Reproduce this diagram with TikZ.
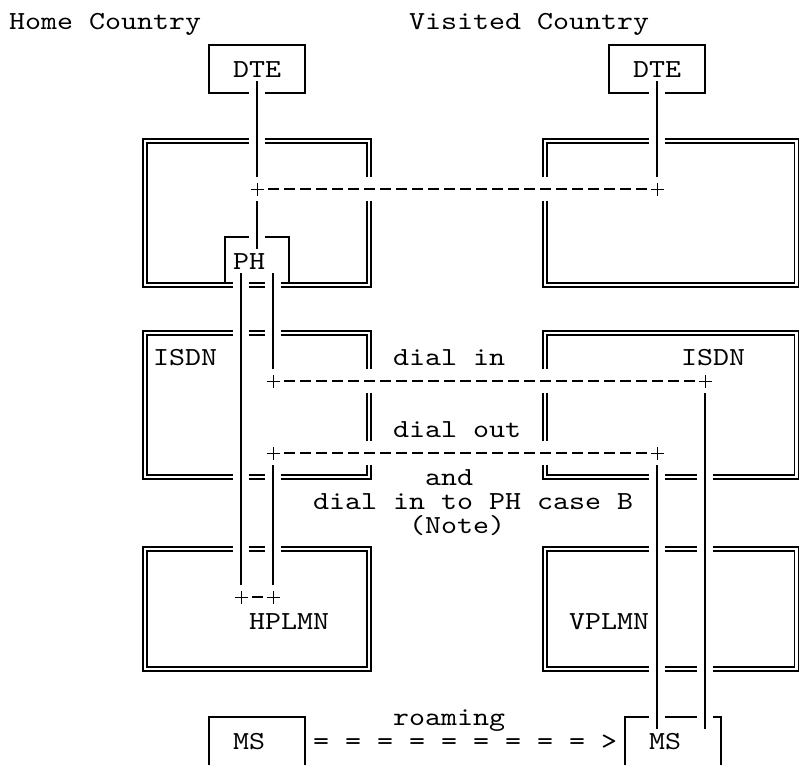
\documentclass[tikz,border=0pt]{standalone}
\usepackage{fontspec}
\usetikzlibrary{calc}
\newfontfamily\asc{lmmono10-regular.otf}[FakeStretch=1.172]
\newcommand\hgap[2]{\fill[white] (#1-8,#2-4) rectangle (#1+8,#2+4);}
\newcommand\vgap[2]{\fill[white] (#1-4,#2-12) rectangle (#1+4,#2+12);}
\newcommand\plusmark[1]{\draw[plusl] ($(#1)+(-6.5,0)$) -- ($(#1)+(6.5,0)$) ($(#1)+(0,-6.5)$) -- ($(#1)+(0,6.5)$);}
\tikzset{
  txt/.style={font=\asc\fontsize{26}{30}\selectfont, inner sep=0pt, anchor=base west},
  plusl/.style={line width=1pt},
  sbox/.style={draw, line width=1.8pt, inner sep=0pt, outer sep=0pt},
  dbox/.style={draw, double, line width=1.4pt, double distance=2.6pt, inner sep=0pt, outer sep=0pt},
  conn/.style={line width=1.8pt},
  dashc/.style={line width=1.6pt, dash pattern=on 11pt off 5pt, dash phase=13.5pt},
}
\begin{document}
\begin{tikzpicture}[x=1pt,y=-1pt]
\useasboundingbox (0,0) rectangle (800,764);
% single boxes
\node[sbox, minimum width=96pt, minimum height=48pt] (dteL) at (257,69) {};
\node[sbox, minimum width=96pt, minimum height=48pt] (dteR) at (657,69) {};
\node[sbox, minimum width=64pt, minimum height=48pt] (ph) at (257,261) {};
\node[sbox, minimum width=96pt, minimum height=83pt] (msL) at (257,758.5) {};
\node[sbox, minimum width=96pt, minimum height=83pt] (msR) at (673,758.5) {};
% double boxes
\node[dbox, minimum width=224pt, minimum height=144pt] (homenet) at (257,213) {};
\node[dbox, minimum width=251.5pt, minimum height=144pt] (visnet) at (670.75,213) {};
\node[dbox, minimum width=224pt, minimum height=144pt] (isdnH) at (257,405) {};
\node[dbox, minimum width=251.5pt, minimum height=144pt] (isdnV) at (670.75,405) {};
\node[dbox, minimum width=224pt, minimum height=120pt] (hplmnB) at (257,609) {};
\node[dbox, minimum width=251.5pt, minimum height=120pt] (vplmnB) at (670.75,609) {};
% gaps where lines cross the borders
\hgap{257}{93} \hgap{657}{93}
\hgap{257}{141} \hgap{657}{141}
\hgap{257}{237}
\hgap{241}{285} \hgap{273}{285}
\hgap{241}{333} \hgap{273}{333}
\hgap{241}{477} \hgap{273}{477} \hgap{657}{477} \hgap{705}{477}
\hgap{241}{549} \hgap{273}{549} \hgap{657}{549} \hgap{705}{549}
\hgap{657}{669} \hgap{705}{669}
\hgap{657}{717} \hgap{705}{717}
\vgap{369}{189} \vgap{545}{189}
\vgap{369}{381} \vgap{545}{381}
\vgap{369}{453} \vgap{545}{453}
% junctions
\coordinate (p1) at (257,189);
\coordinate (p2) at (657,189);
\coordinate (p3) at (273,381);
\coordinate (p3r) at (705,381);
\coordinate (p4) at (273,453);
\coordinate (p4r) at (657,453);
\coordinate (p5) at (241,597);
\coordinate (p6) at (273,597);
\plusmark{p1} \plusmark{p2} \plusmark{p3} \plusmark{p3r}
\plusmark{p4} \plusmark{p4r} \plusmark{p5} \plusmark{p6}
% vertical connectors
\draw[conn] ($(dteL.south)+(0,-12)$) -- ($(p1)+(0,-12)$);
\draw[conn] ($(p1)+(0,12)$) -- ($(ph.north)+(0,12)$);
\draw[conn] ($(dteR.south)+(0,-12)$) -- ($(p2)+(0,-12)$);
\draw[conn] ($(ph.south)+(-16,-12)$) -- ($(p5)+(0,-12)$);
\draw[conn] ($(ph.south)+(16,-12)$) -- ($(p3)+(0,-12)$);
\draw[conn] ($(p4)+(0,12)$) -- ($(p6)+(0,-12)$);
\draw[conn] ($(p3r)+(0,12)$) -- ($(msR.north)+(32,12)$);
\draw[conn] ($(p4r)+(0,12)$) -- ($(msR.north)+(-16,12)$);
% dashed connectors
\draw[dashc] ($(p1)+(8,0)$) -- ($(p2)+(-8,0)$);
\draw[dashc] ($(p3)+(8,0)$) -- ($(p3r)+(-8,0)$);
\draw[dashc] ($(p4)+(8,0)$) -- ($(p4r)+(-8,0)$);
\draw[dashc] ($(p5)+(8,0)$) -- ($(p6)+(-8,0)$);
% texts
\node[txt] (home) at (9,29) {Home Country};
\node[txt] (visited) at (409,29) {Visited Country};
\node[txt] (dteLt) at (233,77) {DTE};
\node[txt] (dteRt) at (633,77) {DTE};
\node[txt] (pht) at (233,269) {PH};
\node[txt] (isdnLt) at (153,365) {ISDN};
\node[txt] (dialin) at (393,365) {dial in};
\node[txt] (isdnRt) at (681,365) {ISDN};
\node[txt] (dialout) at (393,437) {dial out};
\node[txt] (andt) at (425,485) {and};
\node[txt] (dialinph) at (313,509) {dial in to PH case B};
\node[txt] (note) at (409,533) {(Note)};
\node[txt] (hplmnt) at (249,629) {HPLMN};
\node[txt] (vplmnt) at (569,629) {VPLMN};
\node[txt] (roaming) at (393,725) {roaming};
\node[txt] (msLt) at (233,749) {MS};
\node[txt] (roamarrow) at (313,749) {= = = = = = = = = >};
\node[txt] (msRt) at (649,749) {MS};
\end{tikzpicture}
\end{document}
